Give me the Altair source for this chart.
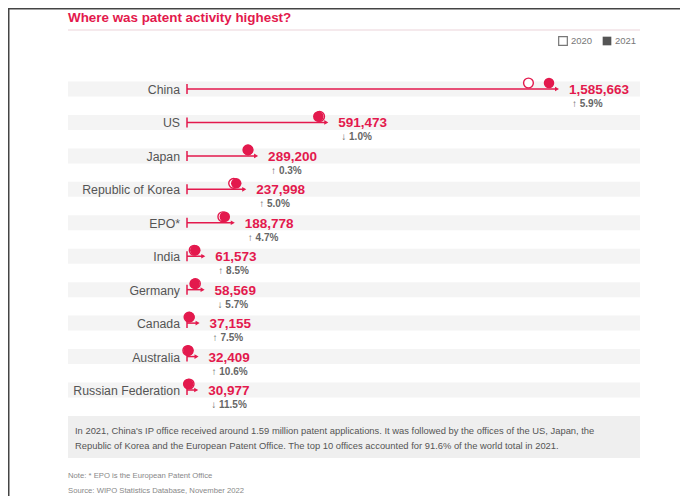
import altair as alt
import pandas as pd

countries = ["China", "US", "Japan", "Republic of Korea", "EPO*", "India",
             "Germany", "Canada", "Australia", "Russian Federation"]
v2021 = [1585663, 591473, 289200, 237998, 188778, 61573, 58569, 37155, 32409, 30977]
v2020 = [1497159, 597172, 288472, 226759, 180250, 56771, 62105, 34565, 29294, 34984]
changes = ["↑  5.9%", "↓  1.0%", "↑  0.3%", "↑  5.0%", "↑  4.7%", "↑  8.5%",
           "↓  5.7%", "↑  7.5%", "↑  10.6%", "↓  11.5%"]

title_text = "Where was patent activity highest?"
box_lines = [
    "In 2021, China's IP office received around 1.59 million patent applications. It was followed by the offices of the US, Japan, the",
    "Republic of Korea and the European Patent Office. The top 10 offices accounted for 91.6% of the world total in 2021.",
]
note_text = "Note: * EPO is the European Patent Office"
source_text = "Source: WIPO Statistics Database, November 2022"

RED = "#e3194d"
FONT = "Liberation Sans"

df = pd.DataFrame({
    "country": countries,
    "rank": list(range(len(countries))),
    "v2021": v2021,
    "v2020": v2020,
    "change": changes,
})

xs = alt.Scale(domain=[0, 1585663], range=[179, 547], nice=False, zero=False)
ys = alt.Scale(domain=[0, 9], range=[81, 382], nice=False, zero=False)
X0 = alt.X("zero:Q", scale=xs, axis=None)
X21 = alt.X("v2021:Q", scale=xs, axis=None)
Y = alt.Y("rank:Q", scale=ys, axis=None)

base = alt.Chart(df).transform_calculate(zero="0")

bands = base.mark_rule(color="#f4f4f4", strokeWidth=15).encode(
    x=alt.value(60), x2=alt.value(632), y=Y)

stems = base.mark_rule(color=RED, strokeWidth=1.5, x2Offset=2).encode(
    x=X0, x2="v2021:Q", y=Y)

starts = base.mark_rule(color=RED, strokeWidth=1.5, yOffset=-5, y2Offset=5).encode(
    x=X0, y=Y, y2="rank:Q")

arrows = base.mark_point(shape="triangle-right", filled=True, color=RED, size=22,
                         xOffset=2, opacity=1).encode(x=X21, y=Y)

open_pts = base.mark_point(shape="circle", filled=True, fill="white", stroke=RED,
                           strokeWidth=1.4, size=95, xOffset=-6, yOffset=-6, opacity=1).encode(
    x=alt.X("v2020:Q", scale=xs, axis=None), y=Y)

fill_pts = base.mark_point(shape="circle", filled=True, color=RED, size=110,
                           xOffset=-6, yOffset=-6, opacity=1).encode(x=X21, y=Y)

country_lbl = base.mark_text(align="right", baseline="middle", dx=-7, dy=1,
                             font=FONT, fontSize=12.3, color="#555").encode(
    x=X0, y=Y, text="country:N")

value_lbl = base.mark_text(align="left", baseline="middle", dx=14, dy=1,
                           font=FONT, fontSize=13.5, fontWeight="bold", color=RED).encode(
    x=X21, y=Y, text=alt.Text("v2021:Q", format=","))

change_lbl = base.mark_text(align="left", baseline="middle", dx=17, dy=15,
                            font=FONT, fontSize=10, fontWeight="bold", color="#666").encode(
    x=X21, y=Y, text="change:N")

one = pd.DataFrame({"a": [0]})
ann = alt.Chart(one)

frame_top = ann.mark_rule(color="#444", strokeWidth=1.5).encode(
    x=alt.value(0), x2=alt.value(680), y=alt.value(0.75))
frame_left = ann.mark_rule(color="#444", strokeWidth=1.5).encode(
    x=alt.value(0.75), y=alt.value(0), y2=alt.value(492))

title = ann.mark_text(text=title_text, align="left", baseline="middle", font=FONT,
                      fontSize=13.4, fontWeight="bold", color=RED).encode(
    x=alt.value(60), y=alt.value(10))
title_rule = ann.mark_rule(color="#f2e2e6", strokeWidth=1.5).encode(
    x=alt.value(60), x2=alt.value(632), y=alt.value(22))

leg_open = ann.mark_point(shape="square", filled=False, color="#777", size=75,
                          strokeWidth=1.2, opacity=1).encode(
    x=alt.value(555), y=alt.value(33))
leg_open_t = ann.mark_text(text="2020", align="left", baseline="middle", font=FONT,
                           fontSize=9.5, color="#777").encode(
    x=alt.value(563), y=alt.value(33))
leg_fill = ann.mark_point(shape="square", filled=True, color="#555", size=75,
                          opacity=1).encode(
    x=alt.value(599), y=alt.value(33))
leg_fill_t = ann.mark_text(text="2021", align="left", baseline="middle", font=FONT,
                           fontSize=9.5, color="#777").encode(
    x=alt.value(607), y=alt.value(33))

box = ann.mark_rect(color="#efefef").encode(
    x=alt.value(60), x2=alt.value(632), y=alt.value(408), y2=alt.value(450))
box_t1 = ann.mark_text(text=box_lines[0], align="left", baseline="middle", font=FONT,
                       fontSize=9.4, color="#555").encode(
    x=alt.value(67), y=alt.value(423))
box_t2 = ann.mark_text(text=box_lines[1], align="left", baseline="middle", font=FONT,
                       fontSize=9.4, color="#555").encode(
    x=alt.value(67), y=alt.value(438))
note = ann.mark_text(text=note_text, align="left", baseline="middle", font=FONT,
                     fontSize=7.7, color="#888").encode(
    x=alt.value(60), y=alt.value(468))
source = ann.mark_text(text=source_text, align="left", baseline="middle", font=FONT,
                       fontSize=7.7, color="#888").encode(
    x=alt.value(60), y=alt.value(483))

chart = alt.layer(
    frame_top, frame_left, title, title_rule, leg_open, leg_open_t, leg_fill, leg_fill_t,
    bands, stems, starts, arrows, open_pts, fill_pts, country_lbl, value_lbl, change_lbl,
    box, box_t1, box_t2, note, source,
).properties(
    width=672, height=488, padding=0, autosize=alt.AutoSizeParams(type="none")
).configure_view(stroke=None)

chart.save("out.html", embed_options={"renderer": "svg", "actions": False})
